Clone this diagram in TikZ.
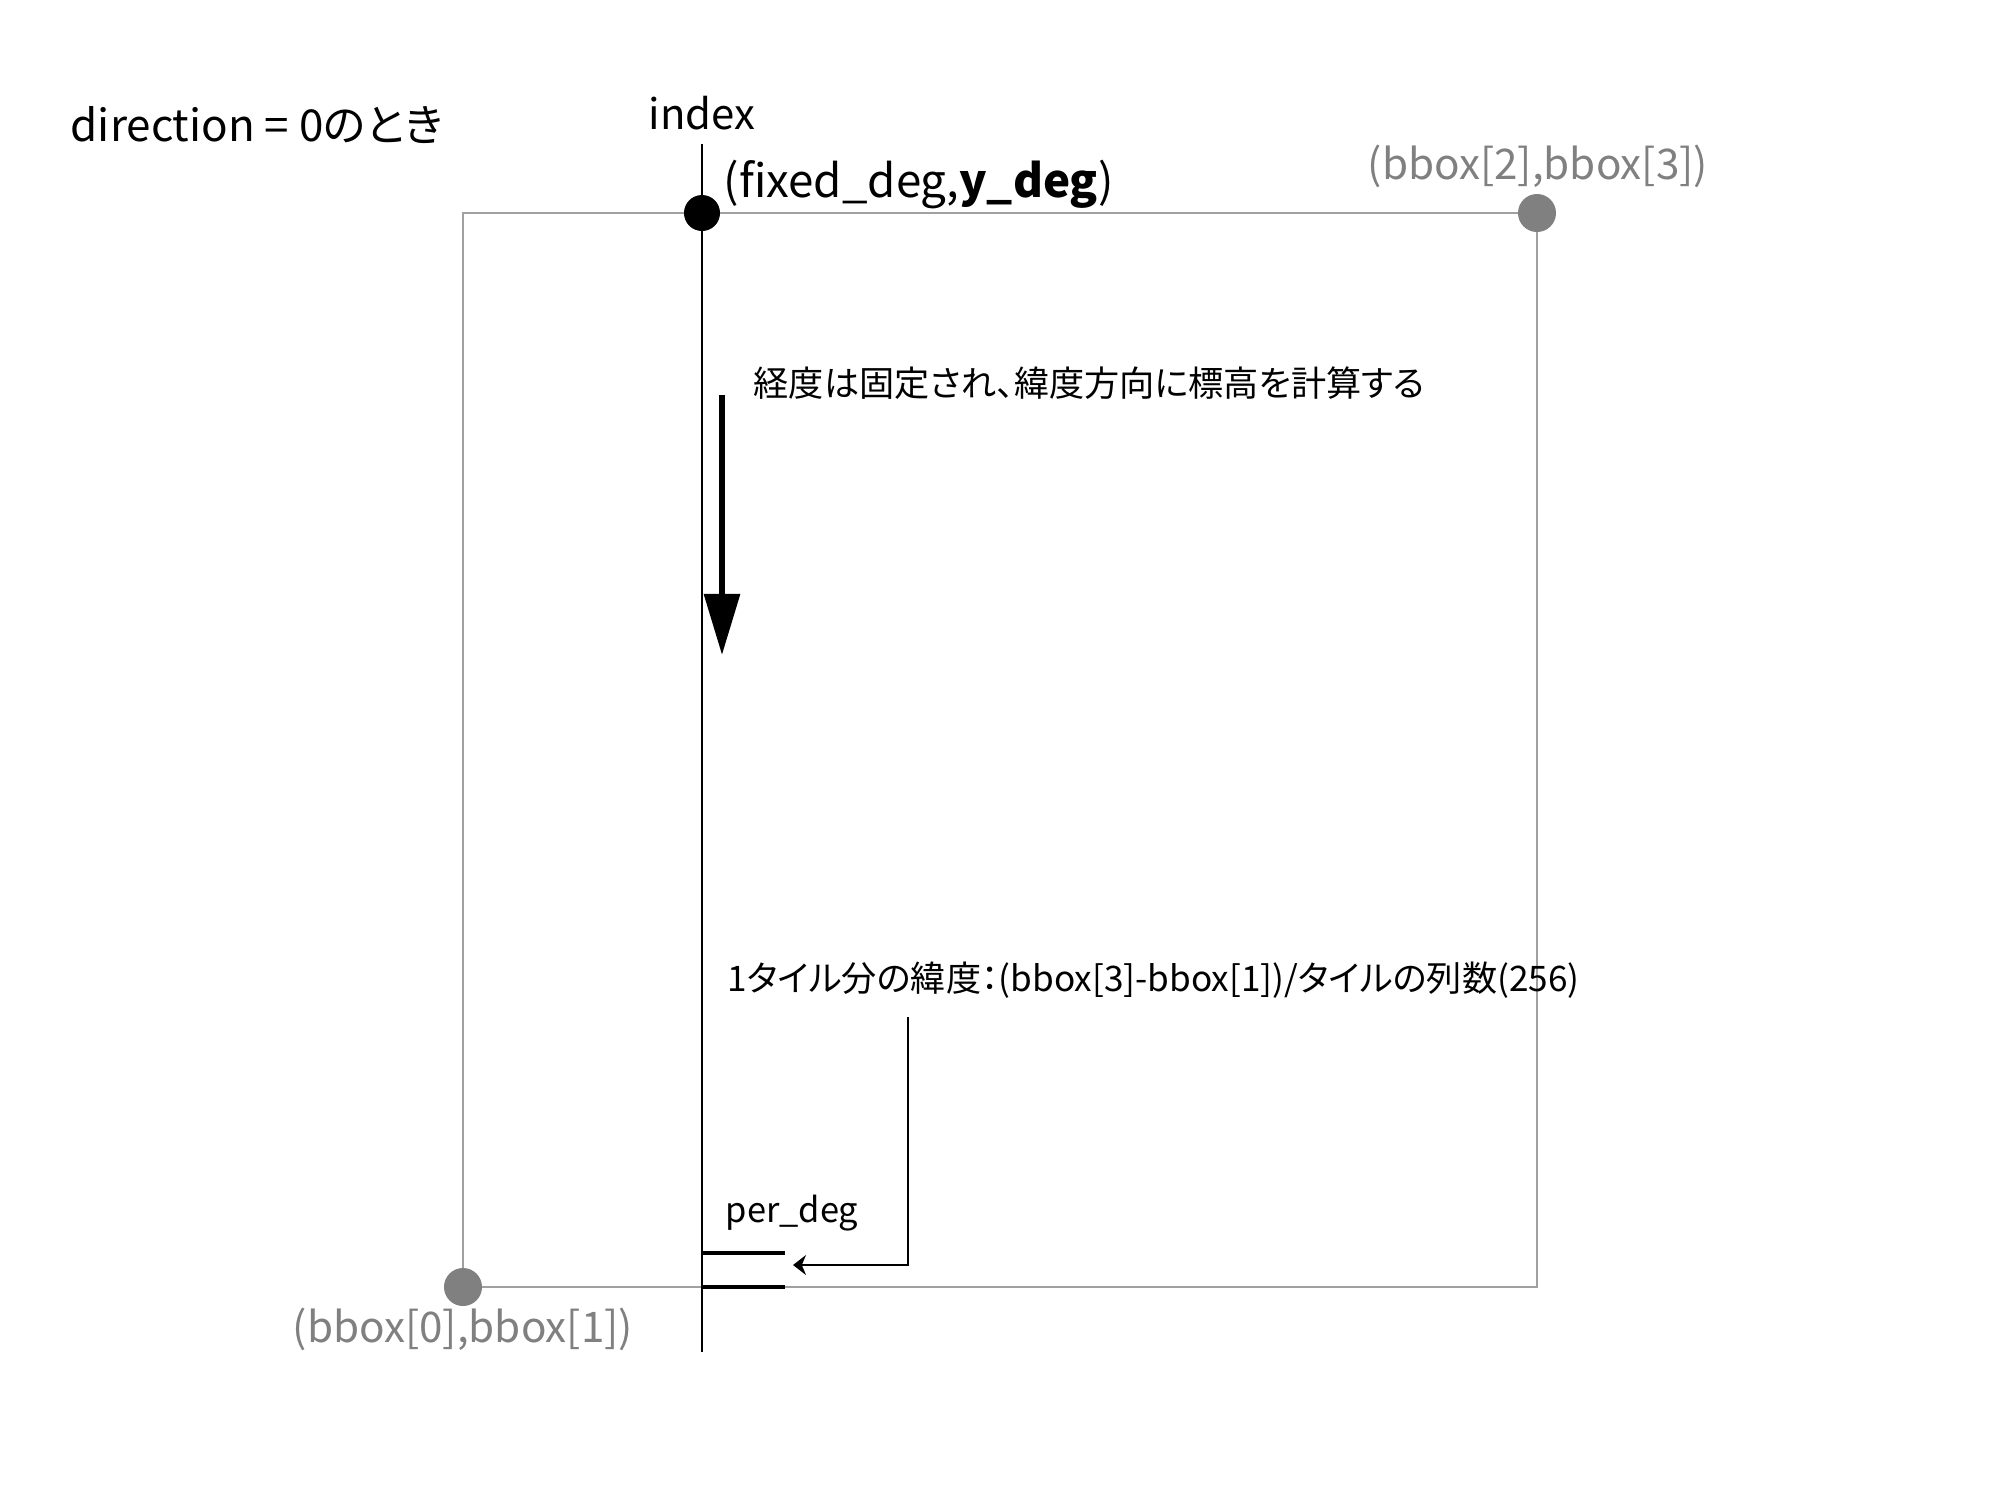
\documentclass[tikz,border=0pt]{standalone}
\usepackage{fontspec}
\setmainfont{Noto Sans CJK JP}[RawFeature=+palt]
\usetikzlibrary{arrows.meta, positioning}
\definecolor{boxgray}{HTML}{A0A0A0}
\definecolor{dotgray}{HTML}{808080}
\tikzstyle{bigtext} = [inner sep=0pt, font=\fontsize{11.9}{14}\selectfont]
\tikzstyle{starttext} = [inner sep=0pt, font=\fontsize{13}{15}\selectfont]
\tikzstyle{smalltext} = [inner sep=0pt, font=\fontsize{10}{12}\selectfont]
\tikzstyle{graytext} = [inner sep=0pt, text=dotgray, font=\fontsize{12}{14}\selectfont]
\tikzstyle{corner} = [circle, fill=dotgray, minimum size=0.38cm, inner sep=0pt]
\tikzstyle{boxline} = [draw=boxgray, line width=0.5pt]
\tikzstyle{arrow} = [line width=1.7pt, -{Triangle[length=0.61cm, width=0.35cm]}]
\tikzstyle{thinarrow} = [line width=0.45pt, -{Stealth[length=0.13cm, width=0.2cm]}]

\begin{document}
\begin{tikzpicture}[x=0.01cm, y=-0.01cm]
\useasboundingbox (0,0) rectangle (1999,1499);

\coordinate (bl) at (463,1287);
\coordinate (tr) at (1537,213);
\draw [boxline] (bl) rectangle (tr);
\node [corner] (bldot) at (bl) {};
\node [corner] (trdot) at (tr) {};
\node [graytext] (trlabel) at (1538,166) {(bbox[2],bbox[3])};
\node [graytext] (bllabel) at (463,1329) {(bbox[0],bbox[1])};

\node [bigtext, anchor=west, font=\fontsize{12.5}{15}\selectfont] (title) at (70,125) {direction = 0のとき};
\node [bigtext] (index) at (702,113) {index};

\coordinate (idxtop) at (702,144);
\coordinate (idxbot) at (702,1352);
\draw [line width=0.55pt] (idxtop) to (idxbot);
\node [circle, fill=black, minimum size=0.36cm, inner sep=0pt] (start) at (702,213) {};
\node [starttext, anchor=west] (startlabel) at (723,185) {(fixed\_deg,\textbf{y\_deg})};

\node [smalltext, anchor=west] (fixnote) at (753,383) {経度は固定され、緯度方向に標高を計算する};
\coordinate (dirfrom) at (722,395);
\coordinate (dirto) at (722,655);
\draw [arrow] (dirfrom) to (dirto);

\node [smalltext, anchor=west] (tilenote) at (727,980) {1タイル分の緯度：(bbox[3]-bbox[1])/タイルの列数(256)};
\node [smalltext, anchor=west, font=\fontsize{9.8}{12}\selectfont] (perlabel) at (725,1213) {per\_deg};

\coordinate (p1) at (702,1253);
\coordinate (p1e) at (785,1253);
\coordinate (p2) at (702,1287);
\coordinate (p2e) at (785,1287);
\draw [line width=1.3pt] (p1) to (p1e);
\draw [line width=1.3pt] (p2) to (p2e);

\coordinate (tiletail) at (908,1017);
\coordinate (bend) at (908,1265);
\coordinate (gap) at (793,1265);
\draw [thinarrow] (tiletail) -- (bend) -- (gap);

\end{tikzpicture}
\end{document}
